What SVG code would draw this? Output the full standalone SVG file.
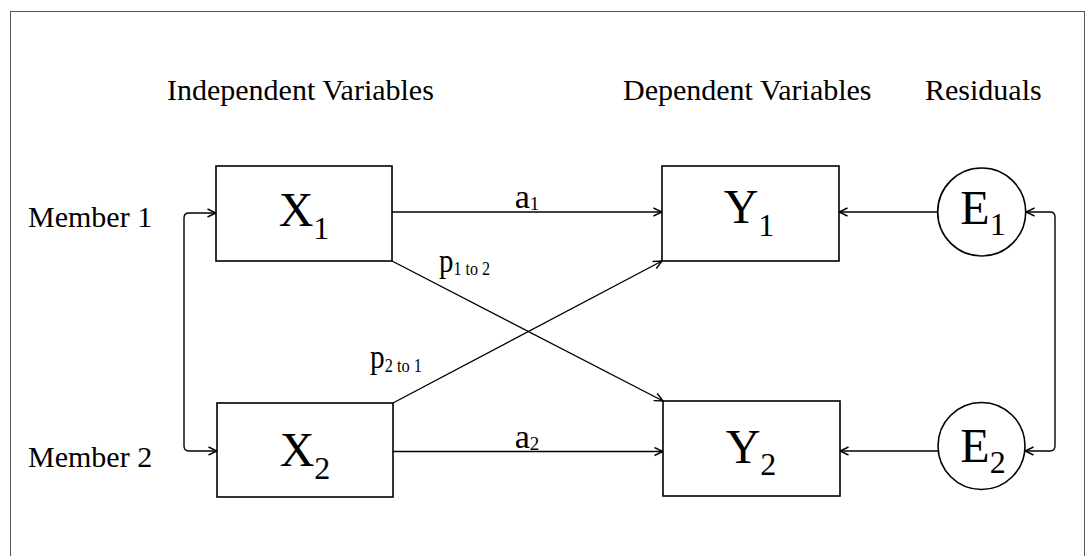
<svg xmlns="http://www.w3.org/2000/svg" width="1086" height="556" viewBox="0 0 1086 556">
<style>
text{font-family:"Liberation Serif","Times New Roman",serif;fill:#000}
.hdr{font-size:30px}
.big{font-size:48px;text-anchor:middle}
.sub{font-size:32px}
.lbl{font-size:34px}
.lsub{font-size:19px}
.box{fill:#fff;stroke:#000;stroke-width:1.6}
.con{fill:none;stroke:#000;stroke-width:1.4;marker-end:url(#ah)}
.both{marker-start:url(#ah)}
</style>
<defs>
<marker id="ah" viewBox="0 0 10 10" refX="9.5" refY="5" markerWidth="10" markerHeight="10" markerUnits="userSpaceOnUse" orient="auto-start-reverse">
<path d="M1,1 L9.5,5 L1,9" fill="none" stroke="#000" stroke-width="1.4"/>
</marker>
</defs>
<rect x="10.5" y="11.5" width="1074" height="560" fill="#fff" stroke="#555" stroke-width="1"/>
<g id="headers">
<text class="hdr" x="167" y="100">Independent Variables</text>
<text class="hdr" x="623" y="100">Dependent Variables</text>
<text class="hdr" x="925" y="100">Residuals</text>
<text class="hdr" x="28" y="227">Member 1</text>
<text class="hdr" x="28" y="467">Member 2</text>
</g>
<g id="connectors">
<path class="con" d="M392,212 L662,212"/>
<path class="con" d="M393,451.5 L663,451.5"/>
<path class="con" d="M938,212 L839,212"/>
<path class="con" d="M938,451 L840,451"/>
<path class="con" d="M392,261 L663,401"/>
<path class="con" d="M393,403 L662,261"/>
<path class="con both" d="M216,213 L189,213 Q184,213 184,218 L184,446 Q184,451 189,451 L217,451"/>
<path class="con both" d="M1026,212 L1050,212 Q1055,212 1055,217 L1055,446 Q1055,451 1050,451 L1025,451"/>
<text class="lbl" x="527" y="208" text-anchor="middle">a<tspan class="lsub" dy="2">1</tspan></text>
<text class="lbl" x="527" y="448" text-anchor="middle">a<tspan class="lsub" dy="2">2</tspan></text>
<text class="lbl" x="439" y="272" textLength="51" lengthAdjust="spacingAndGlyphs">p<tspan class="lsub" dy="3">1 to 2</tspan></text>
<text class="lbl" x="370" y="368" textLength="52" lengthAdjust="spacingAndGlyphs">p<tspan class="lsub" dy="4">2 to 1</tspan></text>
</g>
<g id="X1">
<rect class="box" x="216" y="166" width="176" height="95"/>
<text class="big" x="304" y="226">X<tspan class="sub" dy="13">1</tspan></text>
</g>
<g id="X2">
<rect class="box" x="217" y="403" width="176" height="94"/>
<text class="big" x="305" y="466">X<tspan class="sub" dy="13">2</tspan></text>
</g>
<g id="Y1">
<rect class="box" x="662" y="166" width="177" height="95"/>
<text class="big" x="749" y="223">Y<tspan class="sub" dy="13">1</tspan></text>
</g>
<g id="Y2">
<rect class="box" x="663" y="401" width="177" height="95"/>
<text class="big" x="751" y="463">Y<tspan class="sub" dy="12">2</tspan></text>
</g>
<g id="E1">
<circle class="box" cx="981.7" cy="212" r="44"/>
<text class="big" x="983" y="224">E<tspan class="sub" dy="11">1</tspan></text>
</g>
<g id="E2">
<circle class="box" cx="981.5" cy="446" r="43.5"/>
<text class="big" x="983" y="462">E<tspan class="sub" dy="11">2</tspan></text>
</g>
</svg>
